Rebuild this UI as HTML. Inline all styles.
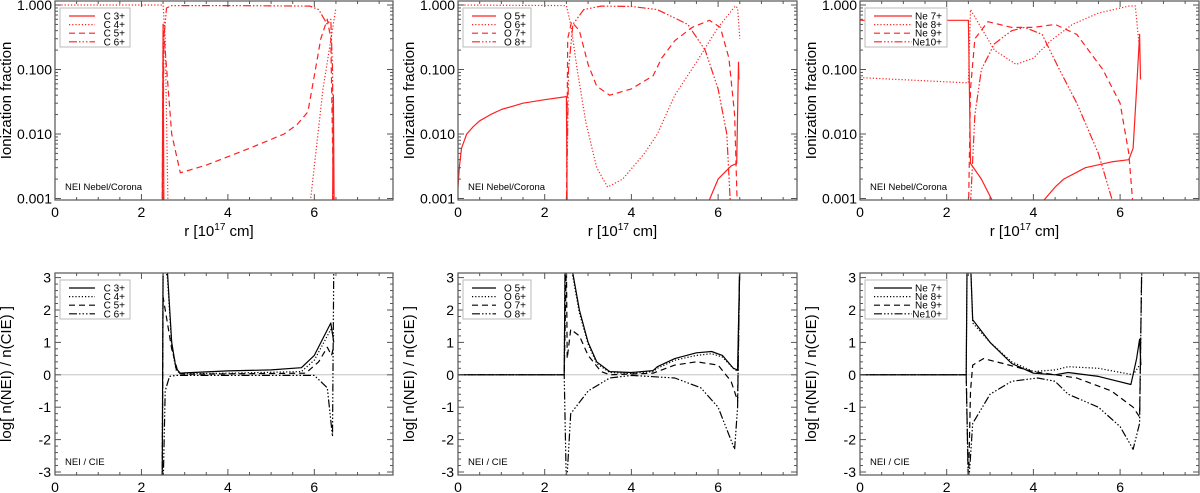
<!DOCTYPE html>
<html><head><meta charset="utf-8">
<style>
html,body{margin:0;padding:0;background:#fff;}
svg{display:block;font-family:"Liberation Sans",Arial,sans-serif;}
</style></head>
<body>
<svg id="fig" width="1200" height="493" viewBox="0 0 1200 493" xmlns="http://www.w3.org/2000/svg"></svg>
<script>
// ---------- data ----------
const xTicks = [0,2,4,6];
const logTicks = [0.001,0.01,0.1,1];
const logTickLabels = ["0.001","0.010","0.100","1.000"];
const ratioTicks = [-3,-2,-1,0,1,2,3];

// Top row: ionization fractions [r, fraction]
const C3 = [[2.48,0.0005],[2.5,0.5],[2.52,0.0005],[6.42,0.0005],[6.44,0.04],[6.46,0.0005]];
const C4 = [[0,1],[2.5,1],[2.55,0.3],[2.62,0.0005],[5.9,0.0008],[6.2,0.05],[6.5,0.9]];
const C5 = [[2.48,0.0005],[2.5,0.5],[2.55,0.2],[2.7,0.01],[2.9,0.0025],[3.5,0.0033],[4.5,0.006],[5.3,0.01],[5.6,0.014],[5.85,0.022],[6.0,0.08],[6.15,0.3],[6.3,0.6],[6.38,0.3],[6.45,0.0005]];
const C6 = [[2.49,0.0005],[2.52,0.3],[2.58,0.9],[2.7,0.98],[4,0.98],[5.9,0.96],[6.1,0.85],[6.3,0.5],[6.38,0.6],[6.42,0.1],[6.45,0.0005]];

const O5 = [[0,0.0015],[0.03,0.003],[0.08,0.006],[0.2,0.01],[0.35,0.013],[0.5,0.016],[0.75,0.02],[1,0.024],[1.5,0.03],[2,0.034],[2.5,0.038],[2.52,0.0005],[5.75,0.0008],[6.0,0.002],[6.3,0.0032],[6.43,0.0035],[6.47,0.13],[6.48,0.07]];
const O6 = [[0,1],[2.5,0.98],[2.6,0.5],[2.75,0.1],[2.95,0.015],[3.2,0.003],[3.45,0.0015],[3.8,0.002],[4.3,0.005],[4.6,0.01],[5.0,0.04],[5.5,0.13],[6.0,0.45],[6.4,0.97],[6.45,0.9],[6.5,0.3]];
const O7 = [[2.5,0.0005],[2.53,0.3],[2.62,0.55],[2.8,0.4],[3.0,0.12],[3.2,0.055],[3.5,0.04],[4.0,0.05],[4.5,0.08],[4.7,0.15],[5.0,0.28],[5.4,0.45],[5.8,0.58],[6.05,0.45],[6.25,0.15],[6.38,0.02],[6.45,0.0005]];
const O8 = [[2.5,0.0005],[2.55,0.1],[2.65,0.5],[2.9,0.85],[3.3,0.96],[4.0,0.95],[4.6,0.85],[5.3,0.5],[5.7,0.2],[6.0,0.05],[6.2,0.01],[6.3,0.0005]];

const Ne7 = [[0,0.58],[2.5,0.58],[2.55,0.0035],[2.8,0.002],[3.1,0.0008],[4.15,0.0008],[4.5,0.0015],[4.7,0.002],[5.2,0.003],[5.8,0.0037],[6.2,0.004],[6.3,0.006],[6.38,0.05],[6.45,0.35],[6.47,0.07]];
const Ne8 = [[0,0.075],[2.5,0.062],[2.55,0.85],[2.75,0.5],[3.1,0.2],[3.6,0.12],[4.0,0.15],[4.4,0.28],[4.9,0.5],[5.5,0.75],[6.2,0.96],[6.35,0.97],[6.45,0.2]];
const Ne9 = [[2.5,0.0005],[2.55,0.05],[2.65,0.3],[2.95,0.55],[3.5,0.45],[4.0,0.45],[4.5,0.5],[5.0,0.35],[5.6,0.1],[6.0,0.03],[6.2,0.005],[6.32,0.0005]];
const Ne10 = [[2.55,0.0008],[2.65,0.02],[2.8,0.1],[3.1,0.25],[3.5,0.4],[3.8,0.45],[4.2,0.35],[4.6,0.1],[5.0,0.03],[5.5,0.005],[5.85,0.0008]];

// Bottom row: log[n(NEI)/n(CIE)] [r, value]
const rC3 = [[2.48,-3.5],[2.5,3.5],[2.6,3.2],[2.7,1.0],[2.8,0.2],[2.9,0.05],[3.0,0.06],[4.0,0.12],[5.0,0.15],[5.7,0.22],[6.0,0.6],[6.38,1.6],[6.45,1.0]];
const rC4 = [[2.48,-3.5],[2.5,3.5],[2.6,3.0],[2.7,0.9],[2.8,0.15],[2.9,0.03],[4.0,0.05],[5.7,0.1],[6.0,0.45],[6.38,1.4],[6.45,1.2]];
const rC5 = [[2.48,-3.5],[2.5,2.4],[2.7,0.8],[2.85,0.05],[3.0,0.02],[5.8,0.05],[6.1,0.4],[6.3,0.85],[6.4,0.6],[6.45,0.9]];
const rC6 = [[2.5,-3.5],[2.55,-0.5],[2.65,-0.05],[2.8,-0.02],[6.0,-0.02],[6.3,-0.4],[6.42,-1.9],[6.45,3.5]];

const rO5 = [[0,0],[2.45,0],[2.47,3.5],[2.6,3.5],[2.8,2.0],[3.0,1.0],[3.2,0.4],[3.5,0.1],[4.0,0.07],[4.5,0.13],[4.6,0.25],[5.0,0.5],[5.5,0.68],[5.85,0.72],[6.1,0.6],[6.35,0.2],[6.45,0.15],[6.5,3.5]];
const rO6 = [[0,0],[2.45,0],[2.47,3.5],[2.6,3.4],[2.8,1.9],[3.0,0.95],[3.2,0.35],[3.5,0.07],[4.0,0.04],[4.5,0.1],[4.6,0.2],[5.0,0.45],[5.5,0.6],[5.85,0.65],[6.1,0.55],[6.35,0.2],[6.45,0.1],[6.5,3.5]];
const rO7 = [[0,0],[2.45,0],[2.5,3.5],[2.52,0.5],[2.6,1.4],[2.8,1.2],[3.0,0.6],[3.3,0.1],[3.5,0.0],[4.5,0.05],[5.0,0.3],[5.5,0.4],[6.0,0.3],[6.3,-0.2],[6.45,-0.8],[6.5,3.5]];
const rO8 = [[0,0],[2.45,0],[2.5,-3.5],[2.6,-1.2],[3.0,-0.5],[3.5,-0.1],[4.0,-0.02],[5.0,-0.1],[5.6,-0.4],[6.0,-1.0],[6.38,-2.3],[6.45,-1.0],[6.5,3.5]];

const rNe7 = [[0,0],[2.45,0],[2.47,3.5],[2.55,3.5],[2.6,1.7],[3.0,1.0],[3.5,0.35],[4.0,0.05],[4.5,0.0],[4.8,0.07],[5.5,-0.05],[6.25,-0.3],[6.38,0.5],[6.45,1.1],[6.48,0.3]];
const rNe8 = [[0,0],[2.45,0],[2.47,3.5],[2.55,3.5],[2.6,1.6],[3.0,1.0],[3.5,0.4],[4.0,0.1],[4.5,0.15],[4.8,0.25],[5.5,0.2],[6.3,0.0],[6.45,0.3]];
const rNe9 = [[0,0],[2.45,0],[2.5,-3.5],[2.55,-0.5],[2.6,0.3],[2.85,0.5],[3.3,0.35],[4.0,0.1],[5.0,-0.1],[5.8,-0.5],[6.3,-1.0],[6.45,-1.3],[6.5,3.5]];
const rNe10 = [[0,0],[2.45,0],[2.5,-3.5],[2.6,-1.5],[3.0,-0.6],[3.5,-0.2],[4.1,-0.1],[4.5,-0.2],[4.8,-0.6],[5.5,-1.0],[6.0,-1.6],[6.3,-2.3],[6.45,-1.5],[6.5,3.5]];

const styles = ["none","1.2,2","6,4","8,2,1.5,2,1.5,2,1.5,2"];
const colLeft = [55,458,860];
const colRight = [393,797,1199];
const legendWidth = [70,68,82];
const topSeries = [[C3,C4,C5,C6],[O5,O6,O7,O8],[Ne7,Ne8,Ne9,Ne10]];
const botSeries = [[rC3,rC4,rC5,rC6],[rO5,rO6,rO7,rO8],[rNe7,rNe8,rNe9,rNe10]];
const legendNames = [["C 3+","C 4+","C 5+","C 6+"],["O 5+","O 6+","O 7+","O 8+"],["Ne 7+","Ne 8+","Ne 9+","Ne10+"]];
const elNames = ["carbon","oxygen","neon"];

// ---------- drawing ----------
const NS="http://www.w3.org/2000/svg";
const svg=document.getElementById('fig');
function mk(tag,attrs,parent){const e=document.createElementNS(NS,tag);for(const k in attrs)e.setAttribute(k,attrs[k]);(parent||svg).appendChild(e);return e;}
const XMAX=7.82;
const TOP={y0:1,y1:200}, BOT={y0:273,y1:475};
function logY(v){return 5+(-Math.log10(v))*64.5;}
function ratY(v){return 374.8-v*32.4;}

for(let c=0;c<3;c++){
  const L=colLeft[c],R=colRight[c];
  const sx=v=>L+v*(R-L)/XMAX;
  for(let row=0;row<2;row++){
    const P=row===0?TOP:BOT;
    const yf=row===0?logY:ratY;
    const color=row===0?"#ff2020":"#000";
    const g=mk('g',{});
    
    
    const cid='clip'+c+row;
    const cp=mk('clipPath',{id:cid},g);mk('rect',{x:L,y:P.y0,width:R-L,height:P.y1-P.y0},cp);
    if(row===1){
      const zl=mk('line',{x1:L,x2:R,y1:yf(0),y2:yf(0),stroke:'#bbb','stroke-width':0.8},g);
      
    }
    const ser=row===0?topSeries[c]:botSeries[c];
    ser.forEach((pts,i)=>{
      const d=pts.map((p,j)=>(j?'L':'M')+sx(p[0]).toFixed(1)+','+yf(p[1]).toFixed(1)).join('');
      const path=mk('path',{d:d,fill:'none',stroke:color,'stroke-width':1.2,'stroke-dasharray':styles[i],'stroke-linejoin':'round','clip-path':'url(#'+cid+')'},g);
      
      
    });
    const fr=mk('rect',{x:L,y:P.y0,width:R-L,height:P.y1-P.y0,fill:'none',stroke:'#555','stroke-width':1.2},g);
    
    for(let v=0;v<=XMAX;v+=0.5){
      const major=Math.abs(v%2)<1e-6;const len=major?6:3;const x=sx(v);
      mk('line',{x1:x,x2:x,y1:P.y1,y2:P.y1-len,stroke:'#555'},g);
      mk('line',{x1:x,x2:x,y1:P.y0,y2:P.y0+len,stroke:'#555'},g);
    }
    xTicks.forEach(v=>{
      const t=mk('text',{x:sx(v),y:P.y1+17,'text-anchor':'middle','font-size':14,fill:'#000'},g);
      t.textContent=v;
    });
    if(row===0){
      for(let e=-4;e<=0;e++)for(let m=1;m<10;m++){
        const v=m*Math.pow(10,e);const y=logY(v);if(y<P.y0||y>P.y1)continue;
        const len=m===1?6:3;
        mk('line',{x1:L,x2:L+len,y1:y,y2:y,stroke:'#555'},g);
        mk('line',{x1:R,x2:R-len,y1:y,y2:y,stroke:'#555'},g);
      }
      logTicks.forEach((v,i)=>{
        const t=mk('text',{x:L-3,y:logY(v)+5,'text-anchor':'end','font-size':14,fill:'#000'},g);
        t.textContent=logTickLabels[i];
      });
    } else {
      for(let v=-3;v<=3.001;v+=0.2){
        const y=ratY(v);const major=Math.abs(v-Math.round(v))<1e-6;const len=major?6:3;
        mk('line',{x1:L,x2:L+len,y1:y,y2:y,stroke:'#555'},g);
        mk('line',{x1:R,x2:R-len,y1:y,y2:y,stroke:'#555'},g);
      }
      ratioTicks.forEach(v=>{
        const t=mk('text',{x:L-4,y:ratY(v)+5,'text-anchor':'end','font-size':14,fill:'#000'},g);
        t.textContent=v;
      });
    }
    const yt=mk('text',{transform:'translate('+(L-44)+','+((P.y0+P.y1)/2)+') rotate(-90)','text-anchor':'middle','font-size':15,fill:'#000'},g);
    yt.textContent=row===0?'Ionization fraction':'log[ n(NEI) / n(CIE) ]';
    
    if(row===0){
      const xt=mk('text',{x:(L+R)/2-5,y:236,'text-anchor':'middle','font-size':15,fill:'#000'},g);
      xt.innerHTML='r [10<tspan dy="-6" font-size="10">17</tspan><tspan dy="6"> cm]</tspan>';
      
    }
    const an=mk('text',{x:L+10,y:P.y1-10,'font-size':9.5,fill:'#000'},g);
    an.textContent=row===0?'NEI Nebel/Corona':'NEI / CIE';
    
    const lg=mk('g',{},g);
    
    const by=P.y0+7, W=legendWidth[c];
    mk('rect',{x:L+5,y:by,width:W,height:39,fill:'#fff',stroke:'#bbb','stroke-width':1},lg);
    legendNames[c].forEach((nm,i)=>{
      const y=by+8+i*8.6;
      const en=mk('g',{},lg);
      
      mk('line',{x1:L+14,x2:L+W-30,y1:y,y2:y,stroke:color,'stroke-width':1.2,'stroke-dasharray':styles[i]},en);
      const t=mk('text',{x:L+W,y:y+3.5,'text-anchor':'end','font-size':10,fill:'#000'},en);
      t.textContent=nm;
    });
  }
}
</script>
</body></html>
